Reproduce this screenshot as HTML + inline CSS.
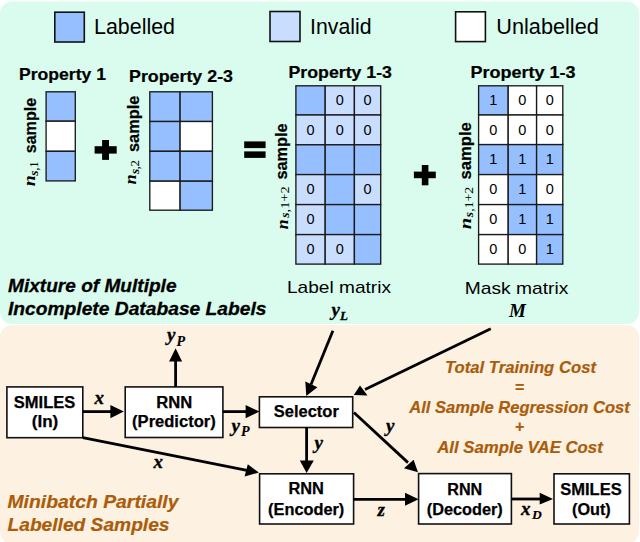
<!DOCTYPE html>
<html><head><meta charset="utf-8">
<style>
html,body{margin:0;padding:0;background:#fff;width:640px;height:542px;overflow:hidden}
svg{display:block}
svg{font-family:"Liberation Sans",sans-serif}
.m,.m text{font-family:"Liberation Serif",serif;font-weight:bold;font-style:italic}
.leg{font-size:21.5px}
.pt{font-size:16.7px;font-weight:bold;stroke:#000;stroke-width:0.2}
.bx{font-size:16px;font-weight:bold;stroke:#000;stroke-width:0.25}
.dg{font-size:14.5px}
.cap{font-size:17px}
.bi{font-size:17px;font-weight:bold;font-style:italic}
.or,.or text{fill:#aa5c0a;stroke:#aa5c0a;stroke-width:0.2}
</style></head>
<body>
<svg width="640" height="542" viewBox="0 0 640 542">
<!-- panels -->
<rect x="0" y="1.5" width="639" height="322.5" rx="12" fill="#d9fcee"/>
<rect x="0" y="325" width="639" height="218.5" rx="12" fill="#fdf1e2"/>

<!-- legend -->
<g stroke="#111" stroke-width="1.6">
<rect x="54.8" y="12.2" width="29.5" height="29.8" fill="#95bfff"/>
<rect x="270" y="11.5" width="30" height="30" fill="#c9deff"/>
<rect x="455.6" y="11.8" width="29.8" height="29.8" fill="#fff"/>
</g>
<text class="leg" x="94" y="33.75" textLength="81" lengthAdjust="spacingAndGlyphs">Labelled</text>
<text class="leg" x="310" y="33.75" textLength="61.5" lengthAdjust="spacingAndGlyphs">Invalid</text>
<text class="leg" x="496.3" y="33.75" textLength="102.5" lengthAdjust="spacingAndGlyphs">Unlabelled</text>

<!-- property titles -->
<text class="pt" x="19" y="79.6" textLength="87" lengthAdjust="spacingAndGlyphs">Property 1</text>
<text class="pt" x="129" y="81.5" textLength="104" lengthAdjust="spacingAndGlyphs">Property 2-3</text>
<text class="pt" x="288.5" y="78.4" textLength="103.5" lengthAdjust="spacingAndGlyphs">Property 1-3</text>
<text class="pt" x="470.5" y="78.4" textLength="105" lengthAdjust="spacingAndGlyphs">Property 1-3</text>

<!-- matrix 1 -->
<g stroke="#1a1a1a" stroke-width="1.35">
<rect x="46.1" y="91.8" width="29.2" height="29.4" fill="#95bfff"/>
<rect x="46.1" y="121.2" width="29.2" height="30.1" fill="#fff"/>
<rect x="46.1" y="151.3" width="29.2" height="29.6" fill="#95bfff"/>
</g>
<!-- matrix 2 -->
<g stroke="#1a1a1a" stroke-width="1.35">
<rect x="149.8" y="91.8" width="30.3" height="29.7" fill="#95bfff"/>
<rect x="180.1" y="91.8" width="32.3" height="29.7" fill="#95bfff"/>
<rect x="149.8" y="121.5" width="30.3" height="29.8" fill="#95bfff"/>
<rect x="180.1" y="121.5" width="32.3" height="29.8" fill="#fff"/>
<rect x="149.8" y="151.3" width="30.3" height="29.9" fill="#95bfff"/>
<rect x="180.1" y="151.3" width="32.3" height="29.9" fill="#95bfff"/>
<rect x="149.8" y="181.2" width="30.3" height="29" fill="#fff"/>
<rect x="180.1" y="181.2" width="32.3" height="29" fill="#95bfff"/>
</g>

<!-- label matrix -->
<g id="lm">
<g stroke="#1a1a1a" stroke-width="1.35">
<rect x="295.9" y="85.8" width="29.3" height="29.2" fill="#95bfff"/>
<rect x="325.2" y="85.8" width="29.2" height="29.2" fill="#c9deff"/>
<rect x="354.4" y="85.8" width="26.3" height="29.2" fill="#c9deff"/>
<rect x="295.9" y="115" width="29.3" height="29.8" fill="#c9deff"/>
<rect x="325.2" y="115" width="29.2" height="29.8" fill="#c9deff"/>
<rect x="354.4" y="115" width="26.3" height="29.8" fill="#c9deff"/>
<rect x="295.9" y="144.8" width="29.3" height="29.8" fill="#95bfff"/>
<rect x="325.2" y="144.8" width="29.2" height="29.8" fill="#95bfff"/>
<rect x="354.4" y="144.8" width="26.3" height="29.8" fill="#95bfff"/>
<rect x="295.9" y="174.6" width="29.3" height="30" fill="#c9deff"/>
<rect x="325.2" y="174.6" width="29.2" height="30" fill="#95bfff"/>
<rect x="354.4" y="174.6" width="26.3" height="30" fill="#c9deff"/>
<rect x="295.9" y="204.6" width="29.3" height="30" fill="#c9deff"/>
<rect x="325.2" y="204.6" width="29.2" height="30" fill="#95bfff"/>
<rect x="354.4" y="204.6" width="26.3" height="30" fill="#95bfff"/>
<rect x="295.9" y="234.6" width="29.3" height="29.5" fill="#c9deff"/>
<rect x="325.2" y="234.6" width="29.2" height="29.5" fill="#c9deff"/>
<rect x="354.4" y="234.6" width="26.3" height="29.5" fill="#95bfff"/>
</g>
<g class="dg" text-anchor="middle">
<text x="339.8" y="105">0</text><text x="367.6" y="105">0</text>
<text x="310.5" y="134.6">0</text><text x="339.8" y="134.6">0</text><text x="367.6" y="134.6">0</text>
<text x="310.5" y="194.2">0</text><text x="367.6" y="194.2">0</text>
<text x="310.5" y="224.2">0</text>
<text x="310.5" y="254">0</text><text x="339.8" y="254">0</text>
</g>
</g>

<!-- mask matrix -->
<g stroke="#1a1a1a" stroke-width="1.35">
<rect x="478.6" y="85.8" width="29.6" height="29.2" fill="#95bfff"/>
<rect x="508.2" y="85.8" width="28.4" height="29.2" fill="#fff"/>
<rect x="536.6" y="85.8" width="26.2" height="29.2" fill="#fff"/>
<rect x="478.6" y="115" width="29.6" height="29.6" fill="#fff"/>
<rect x="508.2" y="115" width="28.4" height="29.6" fill="#fff"/>
<rect x="536.6" y="115" width="26.2" height="29.6" fill="#fff"/>
<rect x="478.6" y="144.6" width="29.6" height="30" fill="#95bfff"/>
<rect x="508.2" y="144.6" width="28.4" height="30" fill="#95bfff"/>
<rect x="536.6" y="144.6" width="26.2" height="30" fill="#95bfff"/>
<rect x="478.6" y="174.6" width="29.6" height="30" fill="#fff"/>
<rect x="508.2" y="174.6" width="28.4" height="30" fill="#95bfff"/>
<rect x="536.6" y="174.6" width="26.2" height="30" fill="#fff"/>
<rect x="478.6" y="204.6" width="29.6" height="30" fill="#fff"/>
<rect x="508.2" y="204.6" width="28.4" height="30" fill="#95bfff"/>
<rect x="536.6" y="204.6" width="26.2" height="30" fill="#95bfff"/>
<rect x="478.6" y="234.6" width="29.6" height="29.5" fill="#fff"/>
<rect x="508.2" y="234.6" width="28.4" height="29.5" fill="#fff"/>
<rect x="536.6" y="234.6" width="26.2" height="29.5" fill="#95bfff"/>
</g>
<g class="dg" text-anchor="middle">
<text x="493.4" y="105">1</text><text x="522.4" y="105">0</text><text x="549.7" y="105">0</text>
<text x="493.4" y="134.6">0</text><text x="522.4" y="134.6">0</text><text x="549.7" y="134.6">0</text>
<text x="493.4" y="164.4">1</text><text x="522.4" y="164.4">1</text><text x="549.7" y="164.4">1</text>
<text x="493.4" y="194.2">0</text><text x="522.4" y="194.2">1</text><text x="549.7" y="194.2">0</text>
<text x="493.4" y="224.2">0</text><text x="522.4" y="224.2">1</text><text x="549.7" y="224.2">1</text>
<text x="493.4" y="254">0</text><text x="522.4" y="254">0</text><text x="549.7" y="254">1</text>
</g>

<!-- plus / equals -->
<g fill="#000">
<rect x="94.6" y="146.2" width="22.1" height="7.4"/><rect x="102.1" y="140" width="6.9" height="19.9"/>
<rect x="244.2" y="141.4" width="21.4" height="6.7"/><rect x="244.2" y="151.4" width="21.4" height="6.5"/>
<rect x="413.9" y="171.6" width="21.9" height="6.6"/><rect x="421.8" y="165" width="6.6" height="20.3"/>
</g>

<!-- rotated labels -->
<g transform="translate(35.5,186.3) rotate(-90)">
<text class="m" x="0" y="-0.5" font-size="17.5" textLength="11" lengthAdjust="spacingAndGlyphs">n</text>
<text class="m" x="10.5" y="2.5" font-size="13.5">s</text>
<text x="15.5" y="2.5" font-size="13.5" font-family="Liberation Serif" textLength="9.5" lengthAdjust="spacingAndGlyphs">,1</text>
<text class="pt" x="33" y="0" textLength="55.5" lengthAdjust="spacingAndGlyphs">sample</text>
</g>
<g transform="translate(138.6,184.6) rotate(-90)">
<text class="m" x="0" y="-2.2" font-size="17.5" textLength="10.2" lengthAdjust="spacingAndGlyphs">n</text>
<text class="m" x="10.5" y="0" font-size="13.5">s</text>
<text x="15" y="0" font-size="13.5" font-family="Liberation Serif" textLength="9.5" lengthAdjust="spacingAndGlyphs">,2</text>
<text class="pt" x="32.6" y="0" textLength="56.3" lengthAdjust="spacingAndGlyphs">sample</text>
</g>
<g transform="translate(286.6,229.2) rotate(-90)">
<text class="m" x="0" y="1" font-size="17.5" textLength="9.8" lengthAdjust="spacingAndGlyphs">n</text>
<text class="m" x="11.4" y="2.2" font-size="13.5">s</text>
<text x="16.8" y="2.2" font-size="13.5" font-family="Liberation Serif" textLength="26" lengthAdjust="spacingAndGlyphs">,1+2</text>
<text class="pt" x="49.6" y="0" textLength="56.3" lengthAdjust="spacingAndGlyphs">sample</text>
</g>
<g transform="translate(470.5,229.2) rotate(-90)">
<text class="m" x="0" y="0.7" font-size="17.5" textLength="11.5" lengthAdjust="spacingAndGlyphs">n</text>
<text class="m" x="12" y="2" font-size="13.5">s</text>
<text x="17.4" y="2" font-size="13.5" font-family="Liberation Serif" textLength="25" lengthAdjust="spacingAndGlyphs">,1+2</text>
<text class="pt" x="49.6" y="0" textLength="57.5" lengthAdjust="spacingAndGlyphs">sample</text>
</g>
<!-- captions -->
<text class="cap" x="287" y="292.6" textLength="104" lengthAdjust="spacingAndGlyphs">Label matrix</text>
<text class="m" font-size="19" stroke="#000" stroke-width="0.3" x="331.5" y="315.5">y<tspan font-size="13" dy="4">L</tspan></text>
<text class="cap" x="464.8" y="293.9" textLength="103.5" lengthAdjust="spacingAndGlyphs">Mask matrix</text>
<text class="m" font-size="19" x="509" y="317.3">M</text>

<text class="bi" style="font-size:18px;stroke:#000;stroke-width:0.3" x="8" y="292.4" textLength="168.5" lengthAdjust="spacingAndGlyphs">Mixture of Multiple</text>
<text class="bi" style="font-size:18px;stroke:#000;stroke-width:0.3" x="8" y="315.1" textLength="258.5" lengthAdjust="spacingAndGlyphs">Incomplete Database Labels</text>

<!-- lower panel -->
<text class="bi or" style="font-size:18px" x="7.5" y="508" textLength="171" lengthAdjust="spacingAndGlyphs">Minibatch Partially</text>
<text class="bi or" style="font-size:18px" x="7.5" y="531" textLength="162" lengthAdjust="spacingAndGlyphs">Labelled Samples</text>

<g class="or" text-anchor="middle">
<text class="bi" x="520.5" y="373.3" textLength="151" lengthAdjust="spacingAndGlyphs">Total Training Cost</text>
<text class="bi" x="519.5" y="393" style="font-size:16px">=</text>
<text class="bi" x="519.5" y="412.8" textLength="220.5" lengthAdjust="spacingAndGlyphs">All Sample Regression Cost</text>
<text class="bi" x="519.5" y="432" style="font-size:16px">+</text>
<text class="bi" x="520" y="453" textLength="165.5" lengthAdjust="spacingAndGlyphs">All Sample VAE Cost</text>
</g>

<!-- boxes -->
<g stroke="#111" stroke-width="1.6" fill="#fff">
<rect x="6.9" y="386.9" width="75.9" height="50.8"/>
<rect x="125.2" y="386.9" width="97.7" height="50.6"/>
<rect x="259.4" y="396.8" width="93.3" height="30.7"/>
<rect x="259.6" y="473.8" width="94" height="50.2"/>
<rect x="418.6" y="473.6" width="92.8" height="50.4"/>
<rect x="554" y="473.8" width="75.4" height="50.2"/>
</g>
<g class="bx" text-anchor="middle">
<text x="44.6" y="407.5" textLength="61.5" lengthAdjust="spacingAndGlyphs">SMILES</text>
<text x="45" y="427.2" textLength="26.5" lengthAdjust="spacingAndGlyphs">(In)</text>
<text x="174.3" y="408" textLength="36" lengthAdjust="spacingAndGlyphs">RNN</text>
<text x="173.9" y="427.3" textLength="83.6" lengthAdjust="spacingAndGlyphs">(Predictor)</text>
<text x="306.3" y="417.4" textLength="65" lengthAdjust="spacingAndGlyphs">Selector</text>
<text x="306.2" y="494.4" textLength="35.5" lengthAdjust="spacingAndGlyphs">RNN</text>
<text x="306.2" y="514.8" textLength="76.2" lengthAdjust="spacingAndGlyphs">(Encoder)</text>
<text x="464.8" y="494.6" textLength="35" lengthAdjust="spacingAndGlyphs">RNN</text>
<text x="464.8" y="514.8" textLength="76" lengthAdjust="spacingAndGlyphs">(Decoder)</text>
<text x="591" y="494.6" textLength="61.5" lengthAdjust="spacingAndGlyphs">SMILES</text>
<text x="591.4" y="514.8" textLength="38.7" lengthAdjust="spacingAndGlyphs">(Out)</text>
</g>

<!-- arrows -->
<g stroke="#000" stroke-width="2.8" fill="none">
<line x1="82.8" y1="411.6" x2="111" y2="411.6"/>
<line x1="175.6" y1="386.9" x2="175.6" y2="361"/>
<line x1="222.9" y1="411.6" x2="246" y2="411.6"/>
<line x1="82.8" y1="437.7" x2="247" y2="470.3"/>
<line x1="332.9" y1="330.8" x2="311" y2="384.5"/>
<line x1="490.75" y1="328.75" x2="365" y2="389.5"/>
<line x1="306.6" y1="427.5" x2="306.6" y2="461"/>
<line x1="353.9" y1="412.5" x2="408" y2="462.6"/>
<line x1="353.6" y1="499.3" x2="406" y2="499.3"/>
<line x1="511.4" y1="499" x2="540" y2="499"/>
</g>
<g fill="#000">
<polygon points="123.8,411.6 110.4,405 110.4,418.2"/>
<polygon points="175.6,348.2 169.1,361.5 182.1,361.5"/>
<polygon points="259.5,411.6 245.6,405 245.6,418.2"/>
<polygon points="258.8,472.6 247.8,464.2 244.6,476.5"/>
<polygon points="306.3,396.1 305.3,381.5 317.4,387.3"/>
<polygon points="353.75,395 360,385.5 367.5,395.5"/>
<polygon points="306.6,473 299.8,460.5 313.8,460.5"/>
<polygon points="418,472.3 404,468.2 413.6,459.8"/>
<polygon points="418.6,499.3 405,492.8 405,505.8"/>
<polygon points="553,499 539.7,492.7 539.7,504.4"/>
</g>

<!-- math labels -->
<g class="m" font-size="19" stroke="#000" stroke-width="0.35">
<text x="94.5" y="404">x</text>
<text x="167" y="341.2">y<tspan font-size="14" dx="1" dy="4.3" stroke-width="0.15">P</tspan></text>
<text x="231.5" y="431.6">y<tspan font-size="14" dx="1" dy="4.3" stroke-width="0.15">P</tspan></text>
<text x="153.5" y="468">x</text>
<text x="314.5" y="449.3">y</text>
<text x="386" y="432">y</text>
<text x="377.5" y="515.5">z</text>
<text x="521" y="514.6">x<tspan font-size="13.5" dx="1.5" dy="4.3" stroke-width="0.15">D</tspan></text>
</g>
</svg>
</body></html>
